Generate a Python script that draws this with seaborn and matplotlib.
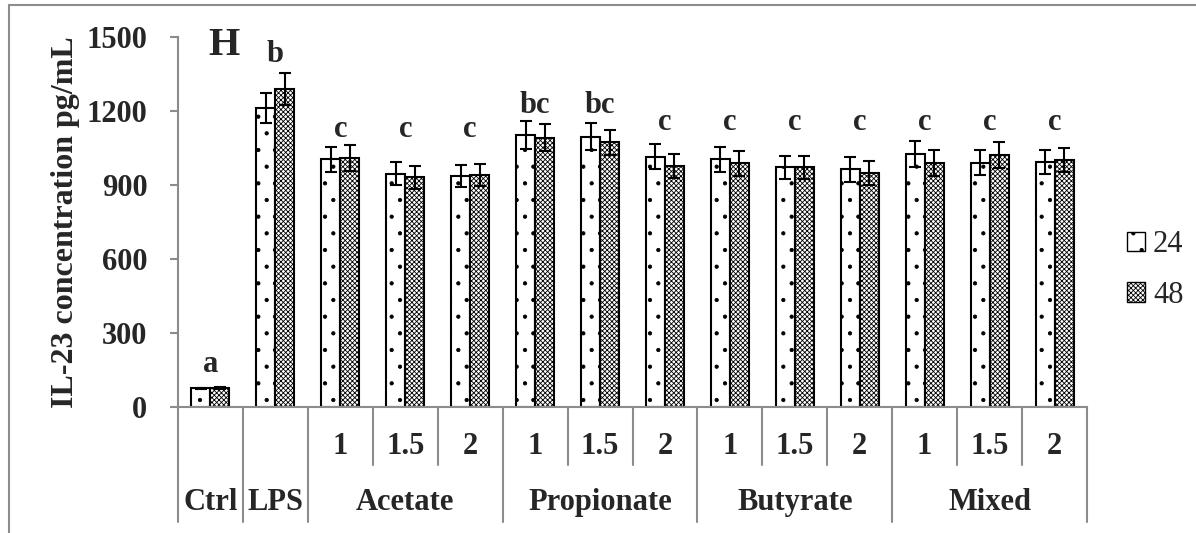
import pandas as pd
import matplotlib.pyplot as plt
import matplotlib.transforms as mtransforms
from matplotlib.lines import Line2D
from matplotlib.patches import Patch
import seaborn as sns

# data
conditions = ['Ctrl', 'LPS',
              'Acetate 1', 'Acetate 1.5', 'Acetate 2',
              'Propionate 1', 'Propionate 1.5', 'Propionate 2',
              'Butyrate 1', 'Butyrate 1.5', 'Butyrate 2',
              'Mixed 1', 'Mixed 1.5', 'Mixed 2']
dose_labels = ['', '', '1', '1.5', '2', '1', '1.5', '2', '1', '1.5', '2', '1', '1.5', '2']
group_names = ['Ctrl', 'LPS', 'Acetate', 'Propionate', 'Butyrate', 'Mixed']
group_sizes = [1, 1, 3, 3, 3, 3]

il23_24h = [76, 1213, 1004, 946, 938, 1101, 1095, 1015, 1004, 971, 963, 1024, 990, 993]
il23_48h = [78, 1289, 1009, 931, 940, 1092, 1073, 977, 988, 971, 950, 990, 1020, 1001]
sd_24h = [3, 60, 50, 46, 45, 57, 55, 51, 50, 48, 49, 53, 50, 50]
sd_48h = [3, 66, 52, 46, 45, 55, 51, 50, 51, 48, 49, 52, 53, 49]

letters = ['a', 'b', 'c', 'c', 'c', 'bc', 'bc', 'c', 'c', 'c', 'c', 'c', 'c', 'c']
letter_y = [142, 1398, 1094, 1094, 1094, 1192, 1192, 1123, 1123, 1123, 1123, 1123, 1123, 1123]

times = ['24', '48']
hatches = ['.', 'xxxxxxx']

sns.set_theme(style='white')
plt.rcParams['font.family'] = ['Liberation Serif', 'DejaVu Serif']
plt.rcParams['hatch.linewidth'] = 0.6

df = pd.DataFrame({
    'condition': conditions * 2,
    'time': [times[0]] * len(conditions) + [times[1]] * len(conditions),
    'value': il23_24h + il23_48h,
})

W, H = 1196, 533
fig = plt.figure(figsize=(W / 100, H / 100), dpi=100)
ax = fig.add_axes([178 / W, 126 / H, 909 / W, 370 / H])

sns.barplot(data=df, x='condition', y='value', hue='time', order=conditions,
            hue_order=times, palette=['white', 'white'], saturation=1,
            edgecolor='black', linewidth=1.5, width=0.585, errorbar=None,
            legend=False, ax=ax)

grey = '#8c8c8c'
for cont, hatch, vals, sds in zip(ax.containers, hatches, [il23_24h, il23_48h], [sd_24h, sd_48h]):
    xs = []
    for bar in cont:
        bar.set_hatch(hatch)
        xs.append(bar.get_x() + bar.get_width() / 2)
    ax.errorbar(xs, vals, yerr=sds, fmt='none', ecolor='black',
                elinewidth=1.5, capsize=4.5, capthick=1.5, zorder=5)

ax.set_xlim(-0.5, len(conditions) - 0.5)
ax.set_ylim(0, 1500)
ax.set_yticks(range(0, 1501, 300))
ax.set_xlabel('')
ax.set_ylabel('IL-23 concentration pg/mL', fontsize=23, fontweight='bold')
ax.yaxis.set_label_coords(-0.108, 0.5)
ax.tick_params(axis='y', left=True, direction='out', length=6, width=1.5,
               color=grey, pad=16, labelsize=22)
ax.tick_params(axis='x', bottom=False, labelbottom=False)
for lbl in ax.get_yticklabels():
    lbl.set_fontweight('bold')
sns.despine(ax=ax)
for side in ['left', 'bottom']:
    ax.spines[side].set_color(grey)
    ax.spines[side].set_linewidth(1.5)

# significance letters
for i, (txt, y) in enumerate(zip(letters, letter_y)):
    ax.text(i, y, txt, ha='center', va='baseline', fontsize=22, fontweight='bold')

# category table under the axis
trans = mtransforms.blended_transform_factory(ax.transData, ax.transAxes)
for i, d in enumerate(dose_labels):
    if d:
        ax.text(i, -0.108, d, transform=trans, ha='center', va='center',
                fontsize=22, fontweight='bold')
start = 0
for name, n in zip(group_names, group_sizes):
    ax.text(start + (n - 1) / 2, -0.259, name, transform=trans, ha='center',
            va='center', fontsize=22, fontweight='bold')
    ax.plot([start - 0.5, start - 0.5], [0, -0.311], transform=trans,
            clip_on=False, color=grey, lw=1.5)
    for k in range(1, n):
        ax.plot([start + k - 0.5] * 2, [0, -0.157], transform=trans,
                clip_on=False, color=grey, lw=1.5)
    start += n
ax.plot([start - 0.5, start - 0.5], [0, -0.311], transform=trans,
        clip_on=False, color=grey, lw=1.5)

# panel letter
fig.text(208 / W, 1 - 55 / H, 'H', fontsize=29, fontweight='bold',
         ha='left', va='baseline')

# legend
handles = [Patch(facecolor='white', edgecolor='black', hatch=h, lw=1) for h in hatches]
fig.legend(handles, times, loc='center left', bbox_to_anchor=(1127 / W, 1 - 270 / H),
           frameon=False, fontsize=22, handlelength=0.6, handleheight=0.6,
           handletextpad=0.25, labelspacing=0.7, borderpad=0, borderaxespad=0)

# figure border
fig.add_artist(Line2D([9 / W, 9 / W], [0, 1 - 5 / H], transform=fig.transFigure,
                      color=grey, lw=1.5))
fig.add_artist(Line2D([9 / W, 1], [1 - 5 / H, 1 - 5 / H], transform=fig.transFigure,
                      color=grey, lw=1.5))

fig.savefig('out.png', dpi=100)
